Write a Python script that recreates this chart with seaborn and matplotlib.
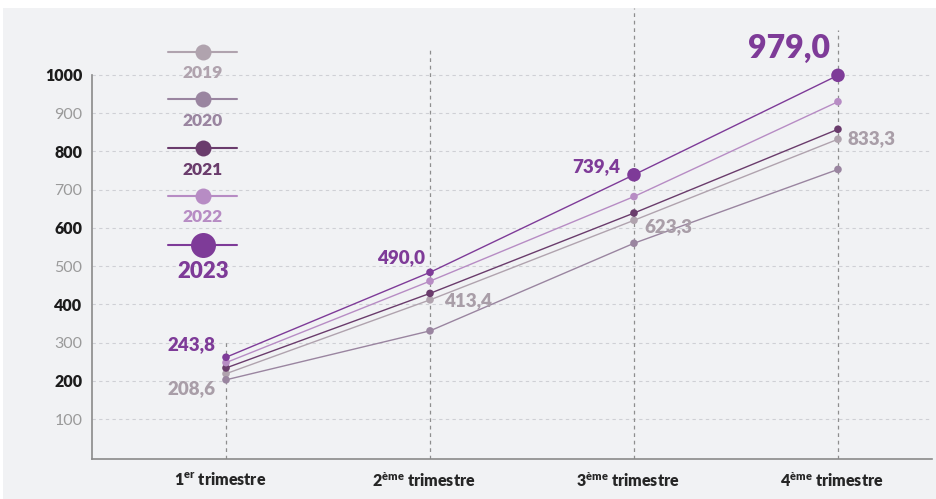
import numpy as np
import pandas as pd
import matplotlib
matplotlib.use("Agg")
import matplotlib.pyplot as plt
import seaborn as sns
from matplotlib.lines import Line2D
from matplotlib.patches import Rectangle

# ---------------- data ----------------
quarters = [0, 1, 2, 3]
quarter_labels = [r"1$^{\mathbf{er}}$ trimestre", r"2$^{\mathbf{ème}}$ trimestre",
                  r"3$^{\mathbf{ème}}$ trimestre", r"4$^{\mathbf{ème}}$ trimestre"]
years = ["2019", "2020", "2021", "2022", "2023"]
v2019 = [219, 412, 620, 832]
v2020 = [203, 331, 560, 753]
v2021 = [234, 429, 639, 858]
v2022 = [248, 461, 682, 930]
v2023 = [262, 484, 739, 999]
big2023 = [False, False, True, True]
yticks = [100, 200, 300, 400, 500, 600, 700, 800, 900, 1000]
annots_2023 = ["243,8", "490,0", "739,4", "979,0"]
annots_2019 = ["208,6", "413,4", "623,3", "833,3"]

colors = {"2019": "#b0a3ae", "2020": "#9a85a0", "2021": "#6a3c6c",
          "2022": "#b78cc4", "2023": "#7e3b98"}

series = {"2019": v2019, "2020": v2020, "2021": v2021, "2022": v2022, "2023": v2023}
rows = []
for y in years:
    for i, q in enumerate(quarters):
        big = big2023[i] if y == "2023" else False
        rows.append({"year": y, "q": q, "value": series[y][i], "big": "big" if big else "small"})
df = pd.DataFrame(rows)

# ---------------- style ----------------
sns.set_style("white")
plt.rcParams["font.family"] = ["Lato", "DejaVu Sans"]
plt.rcParams["mathtext.fontset"] = "custom"
plt.rcParams["mathtext.bf"] = "Lato:heavy"
plt.rcParams["mathtext.rm"] = "Lato"

W, H = 936, 499
fig = plt.figure(figsize=(W / 100, H / 100), dpi=100)
fig.patch.set_facecolor("white")
fig.patches.append(Rectangle((3 / W, 0), 1, 491 / H, transform=fig.transFigure,
                             facecolor="#f1f2f4", edgecolor="none", zorder=-10))

ax = fig.add_axes([92 / W, 40 / H, 840 / W, 451 / H])
ax.set_facecolor("none")
xlim = (-0.657, 3.461)
ylim = (-4, 1175)
ax.set_xlim(*xlim)
ax.set_ylim(*ylim)

# grid
ax.hlines(yticks, xlim[0], xlim[1], colors="#cfd0d5", linestyles=(0, (3, 3)), lw=0.8, zorder=0)
ax.vlines(quarters, ylim[0], [310, 1065, 1175, 1118], colors="#8e8e8e",
          linestyles=(0, (3, 3)), lw=0.9, zorder=0)

# lines and points
sns.lineplot(data=df, x="q", y="value", hue="year", hue_order=years, palette=colors,
             linewidth=1.0, legend=False, ax=ax, sort=False, zorder=2)
sns.scatterplot(data=df, x="q", y="value", hue="year", hue_order=years, palette=colors,
                size="big", sizes={"small": 30, "big": 95}, size_order=["big", "small"],
                edgecolor="none", linewidth=0, legend=False, ax=ax, zorder=3)

# annotations
off23 = [(-11, 13), (-5, 15), (-14, 8), (-8, 27)]
off19 = [(-11, -15), (14, -1), (10, -6), (10, 1)]
ha19 = ["right", "left", "left", "left"]
for i, q in enumerate(quarters):
    ax.annotate(annots_2023[i], (q, v2023[i]), xytext=off23[i], textcoords="offset pixels",
                ha="right", va="center", color=colors["2023"], fontweight="heavy",
                fontsize=23 if i == 3 else 13.5, annotation_clip=False)
    ax.annotate(annots_2019[i], (q, v2019[i]), xytext=off19[i], textcoords="offset pixels",
                ha=ha19[i], va="center", color="#a99ea8", fontweight="heavy",
                fontsize=13.5, annotation_clip=False)

# axes
for s in ["top", "right"]:
    ax.spines[s].set_visible(False)
for s in ["left", "bottom"]:
    ax.spines[s].set_color("#8a8a8a")
    ax.spines[s].set_linewidth(1.2)
ax.spines["left"].set_bounds(ylim[0], 1000)

ax.set_yticks(yticks)
ax.set_yticklabels([str(t) for t in yticks])
for t, lab in zip(yticks, ax.get_yticklabels()):
    if t % 200 == 0:
        lab.set_color("#1c1c1c")
        lab.set_fontweight("heavy")
    else:
        lab.set_color("#9a9a9a")
        lab.set_fontweight("normal")
    lab.set_fontsize(11.5)
ax.tick_params(axis="y", length=0, pad=7)

# x category labels (slightly left of the tick, as in the reference)
ax.set_xticks(quarters)
ax.set_xticklabels([])
ax.tick_params(axis="x", length=0)
for q, lab in zip(quarters, quarter_labels):
    ax.annotate(lab, (q, 0), xycoords=("data", "axes fraction"), xytext=(-6, -12),
                textcoords="offset pixels", ha="center", va="top", fontsize=11.5,
                fontweight="heavy", color="#262626", annotation_clip=False)
ax.set_xlabel("")
ax.set_ylabel("")

# custom legend
leg_y = [52, 99, 148, 196, 245]
lab_y = [73, 121, 170, 217, 272]
for y, my, ly in zip(years, leg_y, lab_y):
    c = colors[y]
    yy = 1 - my / H
    fig.add_artist(Line2D([168 / W, 237 / W], [yy, yy], color=c, lw=1.5,
                          transform=fig.transFigure))
    ms = 18 if y == "2023" else 11.5
    fig.add_artist(Line2D([203 / W], [yy], marker="o", ms=ms, color=c, mec="none",
                          transform=fig.transFigure))
    fig.text(203 / W, 1 - ly / H, y, ha="center", va="center", color=c,
             fontweight="heavy", fontsize=16 if y == "2023" else 12.5)

fig.savefig("out.png", dpi=100)
